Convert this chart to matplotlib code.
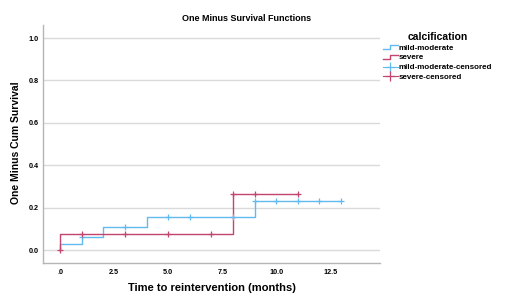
import matplotlib
matplotlib.use("Agg")
import matplotlib.pyplot as plt
from matplotlib.lines import Line2D
from matplotlib.legend_handler import HandlerBase

plt.rcParams['font.family'] = ['Liberation Sans', 'DejaVu Sans']

# Data
mm_times = [0, 1, 2, 4, 9, 13]
mm_values = [0.028, 0.063, 0.11, 0.157, 0.233, 0.233]
sev_times = [0, 0, 8, 11]
sev_values = [0.0, 0.075, 0.264, 0.264]
mm_cens_t = [1, 3, 5, 6, 8, 9, 10, 11, 12, 13]
mm_cens_v = [0.063, 0.11, 0.157, 0.157, 0.157, 0.233, 0.233, 0.233, 0.233, 0.233]
sev_cens_t = [0, 1, 3, 5, 7, 8, 9, 11]
sev_cens_v = [0.0, 0.075, 0.075, 0.075, 0.075, 0.264, 0.264, 0.264]
xticks = [0, 2.5, 5, 7.5, 10, 12.5]
xticklabels = ['.0', '2.5', '5.0', '7.5', '10.0', '12.5']
yticks = [0, 0.2, 0.4, 0.6, 0.8, 1.0]
yticklabels = ['0.0', '0.2', '0.4', '0.6', '0.8', '1.0']

blue = '#62bbf0'
red = '#c2456f'

fig = plt.figure(figsize=(5.13, 3.06), dpi=100)
ax = fig.add_axes([0.0838, 0.1405, 0.6569, 0.7775])

ax.step([0] + mm_times, [0] + mm_values, where='post', color=blue, lw=1)
ax.step(sev_times, sev_values, where='post', color=red, lw=1)
ax.plot(mm_cens_t, mm_cens_v, '+', color=blue, ms=5, mew=0.9, ls='none')
ax.plot(sev_cens_t, sev_cens_v, '+', color=red, ms=5, mew=0.9, ls='none')

ax.set_xlim(-0.8, 14.8)
ax.set_ylim(-0.0613, 1.061)
ax.set_xticks(xticks)
ax.set_xticklabels(xticklabels)
ax.set_yticks(yticks)
ax.set_yticklabels(yticklabels)
ax.tick_params(axis='x', length=0, labelsize=5.2, pad=4)
ax.tick_params(axis='y', length=0, labelsize=5.2, pad=3)
for lab in ax.get_xticklabels() + ax.get_yticklabels():
    lab.set_fontweight('bold')
ax.grid(axis='y', color='#dadada', lw=1)
ax.set_axisbelow(True)
for s in ['top', 'right']:
    ax.spines[s].set_visible(False)
for s in ['left', 'bottom']:
    ax.spines[s].set_color('#b5b5b5')
    ax.spines[s].set_linewidth(1)

ax.set_xlabel('Time to reintervention (months)', fontsize=8, fontweight='bold', labelpad=5)
ax.set_ylabel('One Minus Cum Survival', fontsize=7.5, fontweight='bold')
ax.yaxis.set_label_coords(-0.065, 0.505)
fig.text(0.48, 0.94, 'One Minus Survival Functions', fontsize=6.5, fontweight='bold', ha='center', va='center')


class StepHandler(HandlerBase):
    def create_artists(self, legend, orig_handle, xdescent, ydescent, width, height, fontsize, trans):
        x0 = -xdescent
        y0 = -ydescent
        xs = [x0, x0 + width * 0.5, x0 + width * 0.5, x0 + width]
        ys = [y0 + height * 0.15, y0 + height * 0.15, y0 + height * 0.8, y0 + height * 0.8]
        ln = Line2D(xs, ys, color=orig_handle.get_color(), lw=1, transform=trans)
        return [ln]


h1 = Line2D([], [], color=blue)
h2 = Line2D([], [], color=red)
h3 = Line2D([], [], color=blue, marker='+', ls='-', lw=0.8, ms=7, mew=0.9)
h4 = Line2D([], [], color=red, marker='+', ls='-', lw=0.8, ms=7, mew=0.9)
leg = fig.legend([h1, h2, h3, h4], ['mild-moderate', 'severe', 'mild-moderate-censored', 'severe-censored'],
                 handler_map={h1: StepHandler(), h2: StepHandler()},
                 loc='upper left', bbox_to_anchor=(0.735, 0.915), frameon=False,
                 title='calcification', fontsize=5.8, title_fontsize=7.5,
                 handlelength=1.9, handletextpad=0.1, labelspacing=0.28, borderpad=0.2)
leg.get_title().set_fontweight('bold')
for t in leg.get_texts():
    t.set_fontweight('bold')

fig.savefig('out.png', dpi=100)
